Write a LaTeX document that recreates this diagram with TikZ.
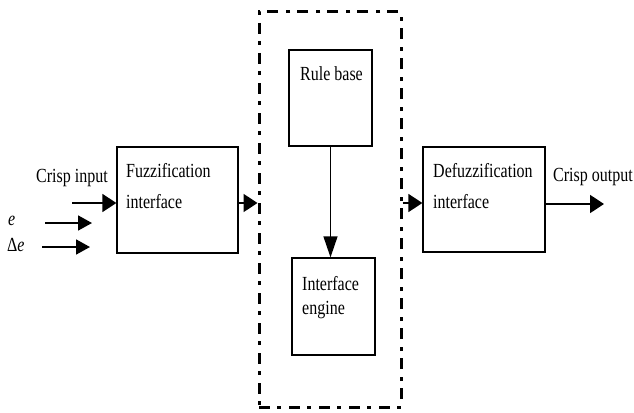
\documentclass[tikz,border=0pt]{standalone}
\usepackage{fontspec}
\setmainfont[FakeStretch=0.8]{Liberation Serif}
\usetikzlibrary{arrows.meta}
\begin{document}
\begin{tikzpicture}[x=1pt,y=-1pt,
  blk/.style={draw,line width=1.3pt,inner sep=0pt},
  lbl/.style={anchor=base west,inner sep=0pt,font=\fontsize{20}{22}\selectfont},
  arr/.style={line width=1.8pt,-{Triangle[length=14pt,width=18pt]}},
  sarr/.style={line width=1.8pt,-{Triangle[length=14pt,width=15pt]}},
  varr/.style={line width=1.3pt,-{Triangle[length=21pt,width=14pt]}},
  dashbox/.style={draw,line width=3pt,dash pattern=on 11pt off 7pt on 4pt off 8pt}]
\useasboundingbox (0,0) rectangle (634,412);
\node[blk,minimum width=121pt,minimum height=106pt] (fuzz) at (177.5,200) {};
\node[blk,minimum width=83pt,minimum height=96pt] (rule) at (330.5,98) {};
\node[blk,minimum width=83pt,minimum height=97pt] (eng) at (333.5,306.5) {};
\node[blk,minimum width=122pt,minimum height=105pt] (defuzz) at (484,199.5) {};
\node[dashbox,minimum width=142pt,minimum height=395pt] (dbox) at (330,209.5) {};
% labels
\node[lbl] (t1) at (126,177) {Fuzzification};
\node[lbl] (t2) at (126,208) {interface};
\node[lbl] (t3) at (433,177) {Defuzzification};
\node[lbl] (t4) at (433,208) {interface};
\node[lbl] (t5) at (300,80) {Rule base};
\node[lbl] (t6) at (302,290) {Interface};
\node[lbl] (t7) at (302,314) {engine};
\node[lbl] (ci) at (36,182) {Crisp input};
\node[lbl] (co) at (553,181) {Crisp output};
\node[lbl] (e) at (8,225) {\itshape e};
\node[lbl] (de) at (7,251) {Δ\textit{e}};
% coordinates
\coordinate (cis) at (72,203);
\coordinate (es) at (45,223);
\coordinate (ee) at (92,223);
\coordinate (des) at (42,247);
\coordinate (dee) at (90,247);
\coordinate (coe) at (604,204);
% connectors
\draw[arr] (cis) -- (fuzz.west |- cis);
\draw[sarr] (es) -- (ee);
\draw[sarr] (des) -- (dee);
\draw[arr] (fuzz.east |- cis) -- (dbox.west |- cis);
\draw[arr] (dbox.east |- cis) -- (defuzz.west |- cis);
\draw[arr] (defuzz.east |- coe) -- (coe);
\draw[varr] (rule.south) -- (rule.south |- eng.north);
\end{tikzpicture}
\end{document}
